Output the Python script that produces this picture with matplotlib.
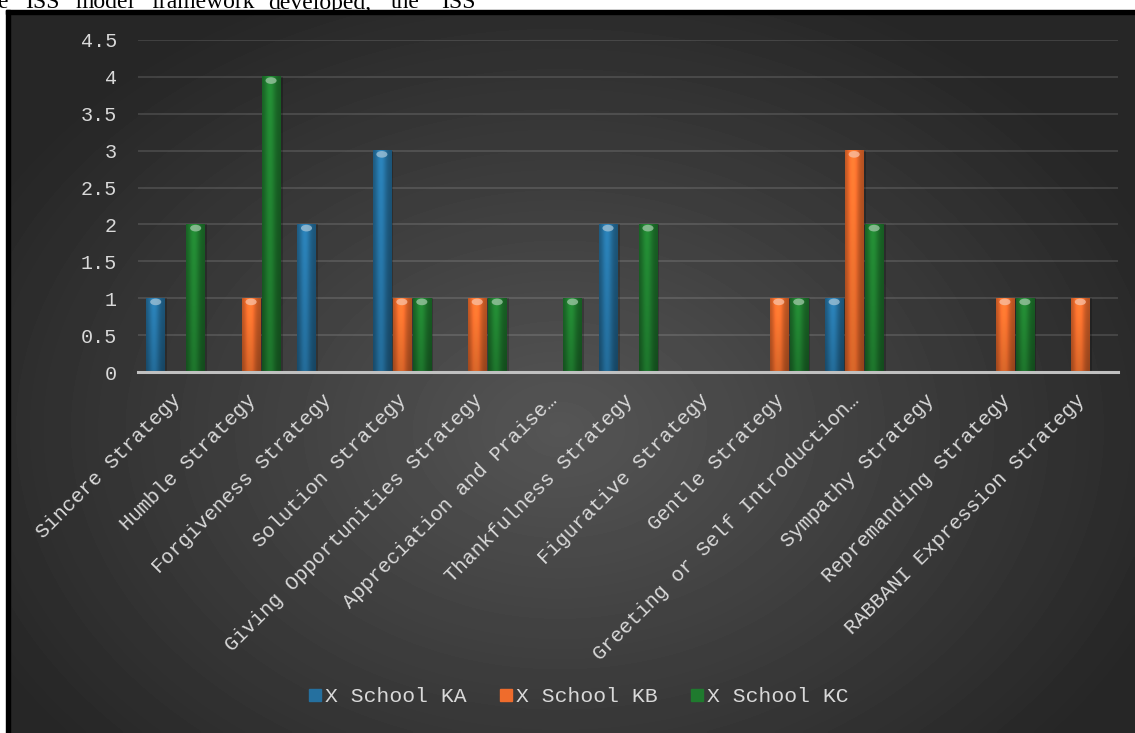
import numpy as np
import matplotlib
matplotlib.use("Agg")
import matplotlib.pyplot as plt
import matplotlib.colors as mcolors
from matplotlib.patches import Rectangle, Ellipse
from matplotlib.lines import Line2D
from matplotlib.transforms import ScaledTranslation

# data
categories = ["Sincere Strategy", "Humble Strategy", "Forgiveness Strategy",
              "Solution Strategy", "Giving Opportunities Strategy",
              "Appreciation and Praise\u2026", "Thankfulness Strategy",
              "Figurative Strategy", "Gentle Strategy",
              "Greeting or Self Introduction\u2026", "Sympathy Strategy",
              "Repremanding Strategy", "RABBANI Expression Strategy"]
school_ka = [1, 0, 2, 3, 0, 0, 2, 0, 0, 1, 0, 0, 0]
school_kb = [0, 1, 0, 1, 1, 0, 0, 0, 1, 3, 0, 1, 1]
school_kc = [2, 4, 0, 1, 1, 1, 2, 0, 1, 2, 0, 1, 0]
series_names = ["X School KA", "X School KB", "X School KC"]
series_colors = ["#25709f", "#ef6c2c", "#1f7a2e"]

W, H = 1135, 733
fig = plt.figure(figsize=(W / 100, H / 100), dpi=100)
fig.patch.set_facecolor("white")

# cut-off line of body text above the chart (clipped in the source too)
words = [("e", -3), ("ISS", 25), ("model", 75), ("framework", 151),
         ("developed,", 268), ("the", 391), ("ISS", 441)]
for w, px in words:
    fig.text(px / W, 1 - 8.5 / H, w, family="Liberation Serif", fontsize=17,
             color="black", va="baseline", ha="left")

# dark radial background panel
bg = fig.add_axes([9 / W, 0, 1 - 9 / W, (H - 14) / H])
gx, gy = np.meshgrid(np.linspace(9, W, 300), np.linspace(14, H, 200))
r = np.sqrt(((gx - 560) / 650) ** 2 + ((gy - 430) / 480) ** 2)
grey = 0.335 - 0.185 * np.clip(r, 0, 1)
bg.imshow(grey, extent=[0, 1, 0, 1], origin="upper", aspect="auto",
          cmap="gray", vmin=0, vmax=1, interpolation="bilinear")
bg.axis("off")
fig.add_artist(Rectangle((6 / W, 0), 3.5 / W, (H - 10) / H, color="black",
                         transform=fig.transFigure, zorder=5))
fig.add_artist(Rectangle((6 / W, (H - 14) / H), 1, 4 / H, color="black",
                         transform=fig.transFigure, zorder=5))

ax = fig.add_axes([138 / W, 1 - 372 / H, 980 / W, 332 / H])
ax.patch.set_alpha(0)

x = np.arange(len(categories))
width = 0.245
offsets = [-0.265, 0.0, 0.265]
all_series = [school_ka, school_kb, school_kc]


def shade_bar(rect, color):
    bx, bw, bh = rect.get_x(), rect.get_width(), rect.get_height()
    if bh <= 0:
        return
    base = np.array(mcolors.to_rgb(color))
    t = np.linspace(0, 1, 40)
    prof = 0.72 + 0.42 * np.exp(-((t - 0.42) / 0.3) ** 2)
    row = np.clip(base[None, :] * prof[:, None], 0, 1)
    v = np.linspace(1.05, 0.85, 30)
    img = np.clip(row[None, :, :] * v[:, None, None], 0, 1)
    ax.imshow(img, extent=(bx, bx + bw, 0, bh), aspect="auto",
              interpolation="bilinear", zorder=3)
    light = base + (1 - base) * 0.55
    ax.add_patch(Ellipse((bx + bw / 2, bh - 0.05), bw * 0.6, 0.09,
                         color=light, alpha=0.8, zorder=4, lw=0))


for vals, off, col in zip(all_series, offsets, series_colors):
    ax.bar(x + off + 0.03, vals, width, color="black", alpha=0.22, zorder=2,
           lw=0)
    bars = ax.bar(x + off, vals, width, color=col, zorder=2.5, lw=0)
    for b in bars:
        shade_bar(b, col)

ax.set_xlim(-0.5, len(categories) - 0.5)
ax.set_ylim(0, 4.5)
ax.set_yticks(np.arange(0, 4.51, 0.5))
ax.yaxis.set_major_formatter(plt.FuncFormatter(lambda v, _: f"{v:g}"))
ax.grid(axis="y", color="white", alpha=0.12, lw=1.5, zorder=0)
ax.set_axisbelow(True)
for s in ["top", "right", "left"]:
    ax.spines[s].set_visible(False)
ax.spines["bottom"].set_color("#c0c0c0")
ax.spines["bottom"].set_linewidth(2.2)
ax.spines["bottom"].set_zorder(6)

font = dict(family="Liberation Mono", size=14.8)
ax.tick_params(axis="y", length=0, pad=15, colors="#d9d9d9", labelsize=14.5)
ax.tick_params(axis="x", length=0, pad=18, colors="#d9d9d9")
for lab in ax.get_yticklabels():
    lab.set_family("Liberation Mono")

ax.set_xticks(x)
ax.set_xticklabels(categories, rotation=45, ha="right", va="center",
                   rotation_mode="anchor", **font)
shift = ScaledTranslation(2 / 100, 0, fig.dpi_scale_trans)
for lab in ax.get_xticklabels():
    lab.set_transform(lab.get_transform() + shift)

handles = [Line2D([], [], marker="s", linestyle="none", markersize=8,
                  markerfacecolor=c, markeredgecolor=c) for c in series_colors]
leg = fig.legend(handles, series_names, loc="center",
                 bbox_to_anchor=(578 / W, 1 - 697 / H), ncol=3, frameon=False,
                 handlelength=0.7, handletextpad=0.1, columnspacing=1.5,
                 prop=dict(family="Liberation Mono", size=15.4))
for t in leg.get_texts():
    t.set_color("#d9d9d9")

fig.savefig("out.png", dpi=100, facecolor="white")
